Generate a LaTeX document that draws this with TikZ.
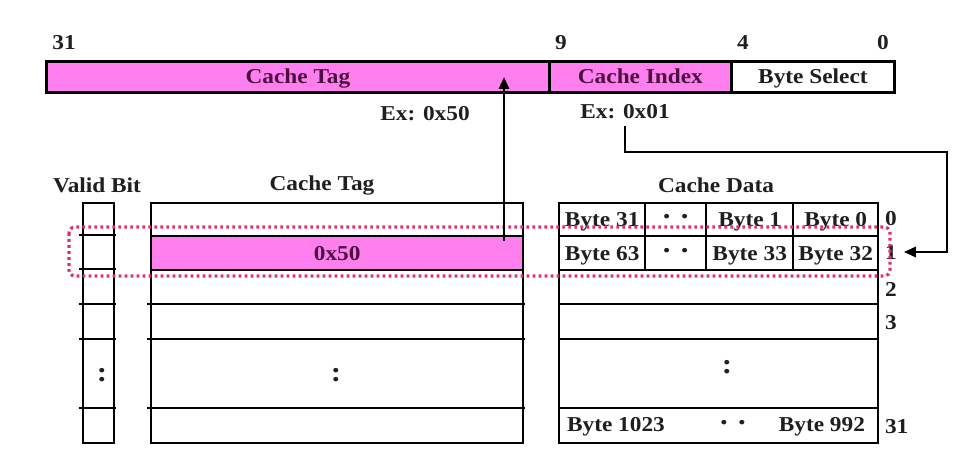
\documentclass[tikz,border=0pt]{standalone}
\usepackage{fontspec}
\setmainfont[FakeStretch=1.1]{Liberation Serif}
\usetikzlibrary{arrows.meta}
\definecolor{tagpink}{HTML}{FF7FEF}
\definecolor{tagtext}{HTML}{4A1040}
\definecolor{hlred}{HTML}{E0306A}
\begin{document}
\begin{tikzpicture}[x=0.5pt,y=-0.5pt,
every node/.style={font=\fontsize{10.6}{12}\selectfont\bfseries, text=black!88},
fld/.style={draw, line width=1.4pt, minimum height=15.5pt, inner sep=0, text height=8pt, text depth=1pt, anchor=north west},
col/.style={draw, line width=1.2pt, minimum height=120pt, inner sep=0, anchor=north west},
cell/.style={draw, line width=1.2pt, minimum height=17pt, inner sep=0, text height=8pt, text depth=1pt, anchor=north west},
rowline/.style={line width=1.2pt},
bigdots/.style={font=\fontsize{14}{14}\selectfont\bfseries},
arr/.style={line width=1.4pt, -{Triangle[length=6pt,width=5pt]}},
hl/.style={draw=hlred, line width=1.6pt, dash pattern=on 1.4pt off 1.6pt, rounded corners=3pt},
%hl/.style={draw=red, dotted},
]
\useasboundingbox (0,0) rectangle (961,454);
% address fields
\node[fld, fill=tagpink, text=tagtext, minimum width=251.5pt] (tagfld) at (45,60) {Cache Tag};
\node[fld, fill=tagpink, text=tagtext, minimum width=91pt] (idxfld) at (548,60) {Cache Index};
\node[fld, minimum width=81.5pt] (selfld) at (730,60) {Byte Select};
\node (bit31) at (64,43) {31};
\node (bit9) at (561,43) {9};
\node (bit4) at (743,43) {4};
\node (bit0) at (883,43) {0};
\node (ex50) at (425,114) {Ex: 0x50};
\node (ex01) at (625,112) {Ex: 0x01};
% cache arrays
\node (hvalid) at (97,185) {Valid Bit};
\node (htag) at (322,185) {Cache Tag};
\node (hdata) at (716,185) {Cache Data};
\node[col, minimum width=15.5pt] (valid) at (82,202) {};
\node[col, minimum width=186pt] (tags) at (150,202) {};
\node[col, minimum width=159.5pt] (data) at (558,202) {};
\node[cell, fill=tagpink, text=tagtext, minimum width=186pt] (row50) at (150,235) {0x50};
\draw[rowline] (79,235) -- (116,235);
\draw[rowline] (79,269) -- (116,269);
\draw[rowline] (79,304) -- (116,304);
\draw[rowline] (79,339) -- (116,339);
\draw[rowline] (79,408) -- (116,408);
\draw[rowline] (147,304) -- (525,304);
\draw[rowline] (147,339) -- (525,339);
\draw[rowline] (147,408) -- (525,408);
\draw[rowline] (558,304) -- (877,304);
\draw[rowline] (558,339) -- (877,339);
\draw[rowline] (558,408) -- (877,408);
% data rows 0 and 1
\node[cell, minimum height=16.5pt, minimum width=43pt] (d31) at (558,202) {Byte 31};
\node[cell, bigdots, minimum height=16.5pt, minimum width=30.5pt] (dots0) at (644,202) {\raisebox{4pt}{. .}};
\node[cell, minimum height=16.5pt, minimum width=43.5pt] (d1) at (705,202) {Byte 1};
\node[cell, minimum height=16.5pt, minimum width=42.5pt] (d0) at (792,202) {Byte 0};
\node[cell, minimum width=43pt] (d63) at (558,235) {Byte 63};
\node[cell, bigdots, minimum width=30.5pt] (dots1) at (644,235) {\raisebox{4pt}{. .}};
\node[cell, minimum width=43.5pt] (d33) at (705,235) {Byte 33};
\node[cell, minimum width=42.5pt] (d32) at (792,235) {Byte 32};
\node[bigdots] (vdots) at (102,375) {:};
\node[bigdots] (tdots) at (336,375) {:};
\node[bigdots] (ddots) at (727,367) {:};
\node[anchor=west] (d1023) at (560,427) {Byte 1023};
\node[bigdots] (dotsl) at (733,423) {. .};
\node[anchor=east] (d992) at (872,427) {Byte 992};
\node[anchor=west] (r0) at (878,219) {0};
\node[anchor=west] (r1) at (878,252) {1};
\node[anchor=west] (r2) at (878,289) {2};
\node[anchor=west] (r3) at (878,323) {3};
\node[anchor=west] (r31) at (878,427) {31};
% selected line
\draw[hl] (69,227) rectangle (890,276);
\coordinate (tagsrc) at (504,241);
\draw[arr] (tagsrc) -- (tagsrc |- tagfld.center);
\coordinate (turn) at (947,152);
\draw[arr] (ex01.south) |- (turn) |- (r1.east);
\end{tikzpicture}
\end{document}
